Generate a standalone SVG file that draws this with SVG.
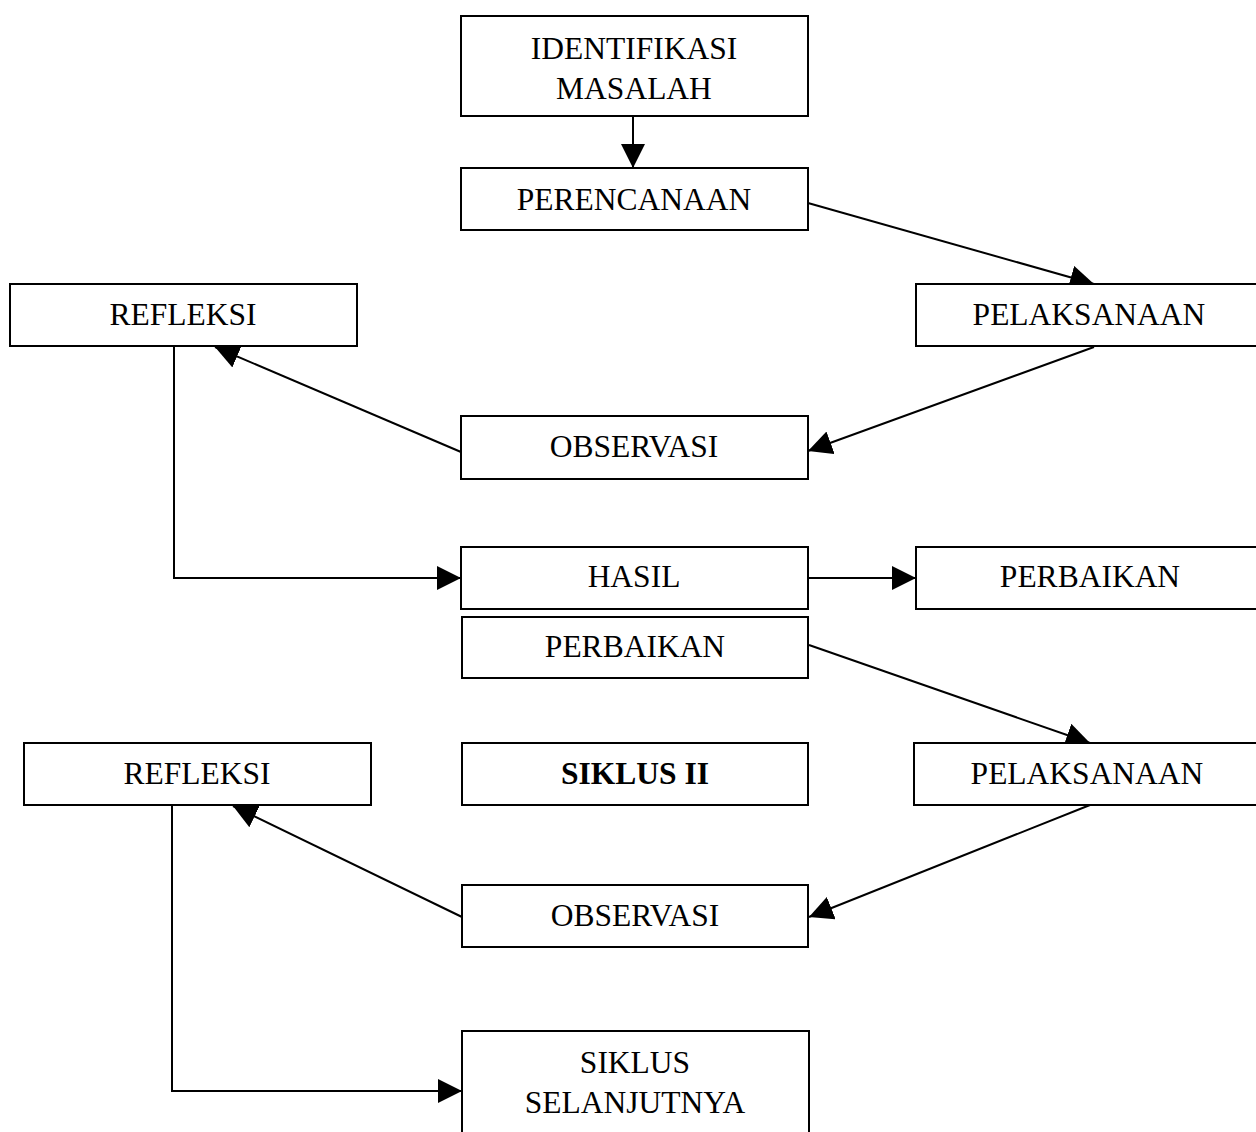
<svg xmlns="http://www.w3.org/2000/svg" width="1256" height="1132" viewBox="0 0 1256 1132">
<style>
.box{fill:#fff;stroke:#000;stroke-width:2}
.t{font-family:"Liberation Serif","Times New Roman",serif;font-size:31.5px;fill:#000;text-anchor:middle}
.b{font-weight:bold}
.c{fill:none;stroke:#000;stroke-width:2}
</style>
<defs>
<marker id="ah" markerUnits="userSpaceOnUse" markerWidth="24" markerHeight="24" viewBox="0 0 22 22" refX="22" refY="11" orient="auto">
<path d="M0,0 L22,11 L0,22 Z" fill="#000"/>
</marker>
</defs>
<rect width="1256" height="1132" fill="#fff"/>
<g id="connectors">
<line class="c" x1="633" y1="117" x2="633" y2="168" marker-end="url(#ah)"/>
<line class="c" x1="808" y1="203" x2="1094" y2="284" marker-end="url(#ah)"/>
<line class="c" x1="1094" y1="347" x2="808" y2="451" marker-end="url(#ah)"/>
<line class="c" x1="461" y1="452" x2="215" y2="347" marker-end="url(#ah)"/>
<polyline class="c" points="174,347 174,578 461,578" marker-end="url(#ah)"/>
<line class="c" x1="808" y1="578" x2="916" y2="578" marker-end="url(#ah)"/>
<line class="c" x1="809" y1="645" x2="1090" y2="743" marker-end="url(#ah)"/>
<line class="c" x1="1090" y1="805" x2="809" y2="917" marker-end="url(#ah)"/>
<line class="c" x1="462" y1="917" x2="233" y2="806" marker-end="url(#ah)"/>
<polyline class="c" points="172,806 172,1091 462,1091" marker-end="url(#ah)"/>
</g>
<g id="identifikasi"><rect class="box" x="461" y="16" width="347" height="100"/><text class="t" x="634" y="59">IDENTIFIKASI</text><text class="t" x="634" y="99">MASALAH</text></g>
<g id="perencanaan"><rect class="box" x="461" y="168" width="347" height="62"/><text class="t" x="634" y="210">PERENCANAAN</text></g>
<g id="pelaksanaan1"><rect class="box" x="916" y="284" width="347" height="62"/><text class="t" x="1089" y="325">PELAKSANAAN</text></g>
<g id="refleksi1"><rect class="box" x="10" y="284" width="347" height="62"/><text class="t" x="183" y="325">REFLEKSI</text></g>
<g id="observasi1"><rect class="box" x="461" y="416" width="347" height="63"/><text class="t" x="634" y="457">OBSERVASI</text></g>
<g id="hasil"><rect class="box" x="461" y="547" width="347" height="62"/><text class="t" x="634" y="587">HASIL</text></g>
<g id="perbaikan-kanan"><rect class="box" x="916" y="547" width="347" height="62"/><text class="t" x="1090" y="587">PERBAIKAN</text></g>
<g id="perbaikan"><rect class="box" x="462" y="617" width="346" height="61"/><text class="t" x="635" y="657">PERBAIKAN</text></g>
<g id="siklus2"><rect class="box" x="462" y="743" width="346" height="62"/><text class="t b" x="635" y="784">SIKLUS II</text></g>
<g id="refleksi2"><rect class="box" x="24" y="743" width="347" height="62"/><text class="t" x="197" y="784">REFLEKSI</text></g>
<g id="pelaksanaan2"><rect class="box" x="914" y="743" width="347" height="62"/><text class="t" x="1087" y="784">PELAKSANAAN</text></g>
<g id="observasi2"><rect class="box" x="462" y="885" width="346" height="62"/><text class="t" x="635" y="926">OBSERVASI</text></g>
<g id="siklus-selanjutnya"><rect class="box" x="462" y="1031" width="347" height="120"/><text class="t" x="635" y="1073">SIKLUS</text><text class="t" x="635" y="1113">SELANJUTNYA</text></g>
</svg>
